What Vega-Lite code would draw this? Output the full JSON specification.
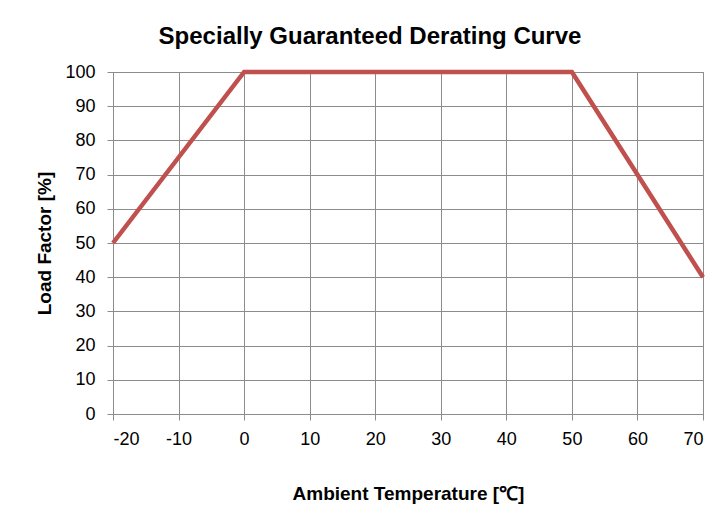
{
  "$schema": "https://vega.github.io/schema/vega-lite/v6.json",
  "width": 590,
  "height": 342,
  "autosize": {"type": "none"},
  "padding": {"left": 113, "top": 72, "right": 22, "bottom": 112},
  "background": "white",
  "title": {
    "text": "Specially Guaranteed Derating Curve",
    "font": "Liberation Sans",
    "fontSize": 24,
    "fontWeight": "bold",
    "color": "#000000",
    "anchor": "middle",
    "dx": -38,
    "offset": 14
  },
  "data": {
    "values": [
      {"temp": -20, "load": 50},
      {"temp": 0, "load": 100},
      {"temp": 50, "load": 100},
      {"temp": 70, "load": 40}
    ]
  },
  "mark": {"type": "line", "color": "#c0504d", "strokeWidth": 4.5, "clip": false},
  "encoding": {
    "x": {
      "field": "temp",
      "type": "quantitative",
      "scale": {"domain": [-20, 70], "nice": false, "zero": false},
      "axis": {
        "title": "Ambient Temperature [℃]",
        "values": [-20, -10, 0, 10, 20, 30, 40, 50, 60, 70],
        "labelExpr": "'' + datum.value",
        "titlePadding": 36,
        "labelPadding": 10
      }
    },
    "y": {
      "field": "load",
      "type": "quantitative",
      "scale": {"domain": [0, 100], "nice": false},
      "axis": {
        "title": "Load Factor [%]",
        "values": [0, 10, 20, 30, 40, 50, 60, 70, 80, 90, 100],
        "titlePadding": 10,
        "labelPadding": 12
      }
    }
  },
  "config": {
    "view": {"stroke": "#8c8c8c", "strokeWidth": 1},
    "axis": {
      "domainColor": "#8c8c8c",
      "gridColor": "#8c8c8c",
      "gridOpacity": 1,
      "gridWidth": 1,
      "tickColor": "#8c8c8c",
      "tickSize": 6,
      "labelFont": "Liberation Sans",
      "labelFontSize": 18,
      "labelColor": "#000000",
      "titleFont": "Liberation Sans",
      "titleFontSize": 19,
      "titleFontWeight": "bold",
      "titleColor": "#000000"
    }
  }
}
